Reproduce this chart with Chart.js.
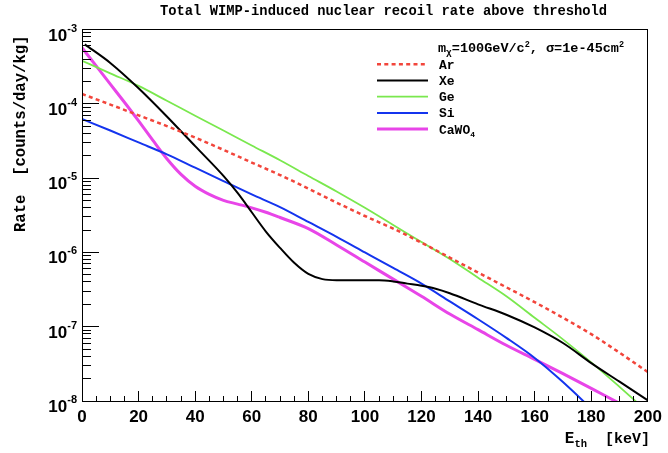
<!DOCTYPE html>
<html>
<head>
<meta charset="utf-8">
<script src="https://cdn.jsdelivr.net/npm/chart.js@4.4.0/dist/chart.umd.min.js"></script>
<style>
  html, body { margin: 0; padding: 0; background: #fff; }
  #wrap { width: 668px; height: 453px; }
</style>
</head>
<body>
<div id="wrap"><canvas id="chart" width="668" height="453"></canvas></div>
<script>
// threshold energies [keV]
const eCoarse = [0,10,20,30,40,50,60,70,80,90,100,110,120,130,140,150,160,170,180,190,200];
const eXe = [1,10,20,30,40,50,55,60,65,70,75,80,85,90,95,100,105,110,115,120,125,130,140,150,160,170,180,190,200];
const eCaWO4 = [0,5,10,15,20,25,30,35,40,45,50,55,60,65,70,80,90,100,110,120,130,140,150,160,170,180,190,200];
const eSi = [0,10,20,30,40,50,60,70,80,90,100,110,120,130,140,150,160,170,180,190];

// rates [counts/day/kg]
const rateAr = [1.355e-4,9.77e-5,7.0e-5,5.01e-5,3.51e-5,2.40e-5,1.62e-5,1.10e-5,7.24e-6,4.68e-6,3.09e-6,
  2.09e-6,1.35e-6,8.51e-7,5.37e-7,3.39e-7,2.14e-7,1.32e-7,7.94e-8,4.47e-8,2.45e-8];
const rateXe = [6.3e-4,3.55e-4,1.62e-4,6.76e-5,2.69e-5,1.07e-5,6.31e-6,3.47e-6,1.91e-6,1.15e-6,7.24e-7,5.13e-7,
  4.37e-7,4.22e-7,4.22e-7,4.22e-7,4.22e-7,4.07e-7,3.80e-7,3.55e-7,3.24e-7,2.82e-7,2.00e-7,1.45e-7,9.77e-8,
  6.03e-8,3.24e-8,1.82e-8,1.02e-8];
const rateGe = [3.80e-4,2.57e-4,1.74e-4,1.10e-4,6.92e-5,4.37e-5,2.75e-5,1.74e-5,1.07e-5,6.61e-6,3.98e-6,
  2.34e-6,1.38e-6,8.13e-7,4.57e-7,2.57e-7,1.32e-7,6.76e-8,3.31e-8,1.55e-8,7.1e-9];
const rateSi = [6.24e-5,4.37e-5,3.02e-5,2.09e-5,1.38e-5,9.12e-6,6.03e-6,4.07e-6,2.57e-6,1.62e-6,1.00e-6,
  6.17e-7,3.80e-7,2.19e-7,1.26e-7,7.08e-8,3.80e-8,1.80e-8,7.8e-9,3.0e-9];
const rateCaWO4 = [5.69e-4,3.24e-4,1.84e-4,1.05e-4,5.89e-5,3.24e-5,1.82e-5,1.12e-5,7.76e-6,6.03e-6,5.01e-6,
  4.47e-6,3.98e-6,3.47e-6,2.95e-6,2.09e-6,1.26e-6,7.41e-7,4.37e-7,2.57e-7,1.48e-7,9.12e-8,5.62e-8,3.63e-8,
  2.33e-8,1.48e-8,9.3e-9,5.9e-9];

const xTicks = [0,20,40,60,80,100,120,140,160,180,200];
const yDecades = [1e-3,1e-4,1e-5,1e-6,1e-7,1e-8];
const yExponents = ['-3','-4','-5','-6','-7','-8'];

const MONO = '"Liberation Mono", "DejaVu Sans Mono", monospace';
const SANS = '"Liberation Sans", Arial, sans-serif';

function pts(xs, ys) {
  return xs.map((e, i) => ({ x: e, y: ys[i] }));
}

function line(label, xs, ys, color, width, dash) {
  return {
    label: label,
    data: pts(xs, ys),
    borderColor: color,
    backgroundColor: color,
    borderWidth: width,
    borderDash: dash || [],
    pointRadius: 0,
    fill: false,
    cubicInterpolationMode: 'monotone'
  };
}

// draws a run of [text, size, yShift] pieces starting at x
function drawPieces(ctx, pieces, x, y, family) {
  for (const p of pieces) {
    ctx.font = 'bold ' + p[1] + 'px ' + family;
    ctx.fillText(p[0], x, y + (p[2] || 0));
    x += ctx.measureText(p[0]).width;
  }
  return x;
}
function piecesWidth(ctx, pieces, family) {
  let w = 0;
  for (const p of pieces) {
    ctx.font = 'bold ' + p[1] + 'px ' + family;
    w += ctx.measureText(p[0]).width;
  }
  return w;
}

const rootStyle = {
  id: 'rootStyle',
  afterDatasetsDraw(chart) {
    const { ctx, chartArea: a, scales: { x, y } } = chart;
    ctx.save();
    ctx.strokeStyle = '#000';
    ctx.lineWidth = 1;
    ctx.beginPath();
    // x ticks pointing inward
    for (let e = 0; e <= 200; e += 5) {
      const px = Math.floor(x.getPixelForValue(e)) + 0.5;
      const len = e % 20 === 0 ? 10 : 5;
      ctx.moveTo(px, a.bottom);
      ctx.lineTo(px, a.bottom - len);
    }
    // y ticks (log, minor at 2..9)
    for (let n = -8; n <= -3; n++) {
      for (let m = 1; m <= 9; m++) {
        const v = m * Math.pow(10, n);
        if (v > 1.0001e-3) break;
        const py = Math.floor(y.getPixelForValue(v)) + 0.5;
        const len = m === 1 ? 17 : 9;
        ctx.moveTo(a.left, py);
        ctx.lineTo(a.left + len, py);
      }
    }
    ctx.stroke();
    // frame
    ctx.strokeRect(Math.floor(a.left) + 0.5, Math.floor(a.top) + 0.5,
      Math.floor(a.right) - Math.floor(a.left), Math.floor(a.bottom) - Math.floor(a.top));
    ctx.restore();
  },
  afterDraw(chart) {
    const { ctx, scales: { y } } = chart;
    ctx.save();
    ctx.fillStyle = '#000';
    ctx.textBaseline = 'alphabetic';

    // y tick labels 10^n
    yDecades.forEach((v, i) => {
      const py = y.getPixelForValue(v);
      const pieces = [['10', 17, 0], [yExponents[i], 11, -9]];
      const w = piecesWidth(ctx, pieces, SANS);
      drawPieces(ctx, pieces, 77 - w, py + 11, SANS);
    });

    // title
    ctx.font = 'bold 13.8px ' + MONO;
    ctx.textAlign = 'left';
    ctx.fillText('Total WIMP-induced nuclear recoil rate above threshold', 160, 15);

    // y axis title
    ctx.save();
    ctx.translate(25, 232);
    ctx.rotate(-Math.PI / 2);
    ctx.font = 'bold 15.6px ' + MONO;
    ctx.fillText('Rate  [counts/day/kg]', 0, 0);
    ctx.restore();

    // x axis title
    const xt = [['E', 16, 0], ['th', 10.5, 4], ['  [keV]', 15, 0]];
    drawPieces(ctx, xt, 650 - piecesWidth(ctx, xt, MONO), 443, MONO);

    // legend header
    const hdr = [['m', 13.5, 0], ['\u03c7', 9.5, 3], ['=100GeV/c', 13.5, 0], ['2', 8.5, -5],
      [', \u03c3=1e-45cm', 13.5, 0], ['2', 8.5, -5]];
    drawPieces(ctx, hdr, 438, 52, MONO);

    // legend entries
    chart.data.datasets.forEach((ds, i) => {
      const cy = 64.3 + i * 16.2;
      ctx.save();
      ctx.strokeStyle = ds.borderColor;
      ctx.lineWidth = ds.borderWidth;
      ctx.setLineDash(ds.borderDash);
      ctx.beginPath();
      ctx.moveTo(377, cy);
      ctx.lineTo(428, cy);
      ctx.stroke();
      ctx.restore();
      let pieces = [[ds.label, 13, 0]];
      if (ds.label === 'CaWO4') pieces = [['CaWO', 13, 0], ['4', 8, 3]];
      drawPieces(ctx, pieces, 439, cy + 4.5, MONO);
    });
    ctx.restore();
  }
};

new Chart(document.getElementById('chart'), {
  type: 'line',
  data: {
    datasets: [
      line('Ar', eCoarse, rateAr, '#f2453b', 2.5, [4, 3.3]),
      line('Xe', eXe, rateXe, '#000000', 2),
      line('Ge', eCoarse, rateGe, '#7ae84e', 1.8),
      line('Si', eSi, rateSi, '#1434ee', 2),
      line('CaWO4', eCaWO4, rateCaWO4, '#e845e8', 3)
    ]
  },
  options: {
    responsive: false,
    devicePixelRatio: 1,
    animation: false,
    layout: { padding: { top: 29.5, right: 17, left: 0, bottom: 0 } },
    plugins: { legend: { display: false }, title: { display: false }, tooltip: { enabled: false } },
    scales: {
      x: {
        type: 'linear', min: 0, max: 200,
        afterFit: s => { s.height = 52; },
        afterBuildTicks: s => { s.ticks = xTicks.map(v => ({ value: v })); },
        grid: { display: false, drawTicks: false },
        border: { display: false },
        ticks: {
          autoSkip: false, maxRotation: 0, padding: 6, color: '#000',
          font: { family: SANS, size: 17, weight: 'bold' }
        }
      },
      y: {
        type: 'logarithmic', min: 1e-8, max: 1e-3,
        afterFit: s => { s.width = 82; },
        grid: { display: false, drawTicks: false },
        border: { display: false },
        ticks: { display: false }
      }
    }
  },
  plugins: [rootStyle]
});
</script>
</body>
</html>
